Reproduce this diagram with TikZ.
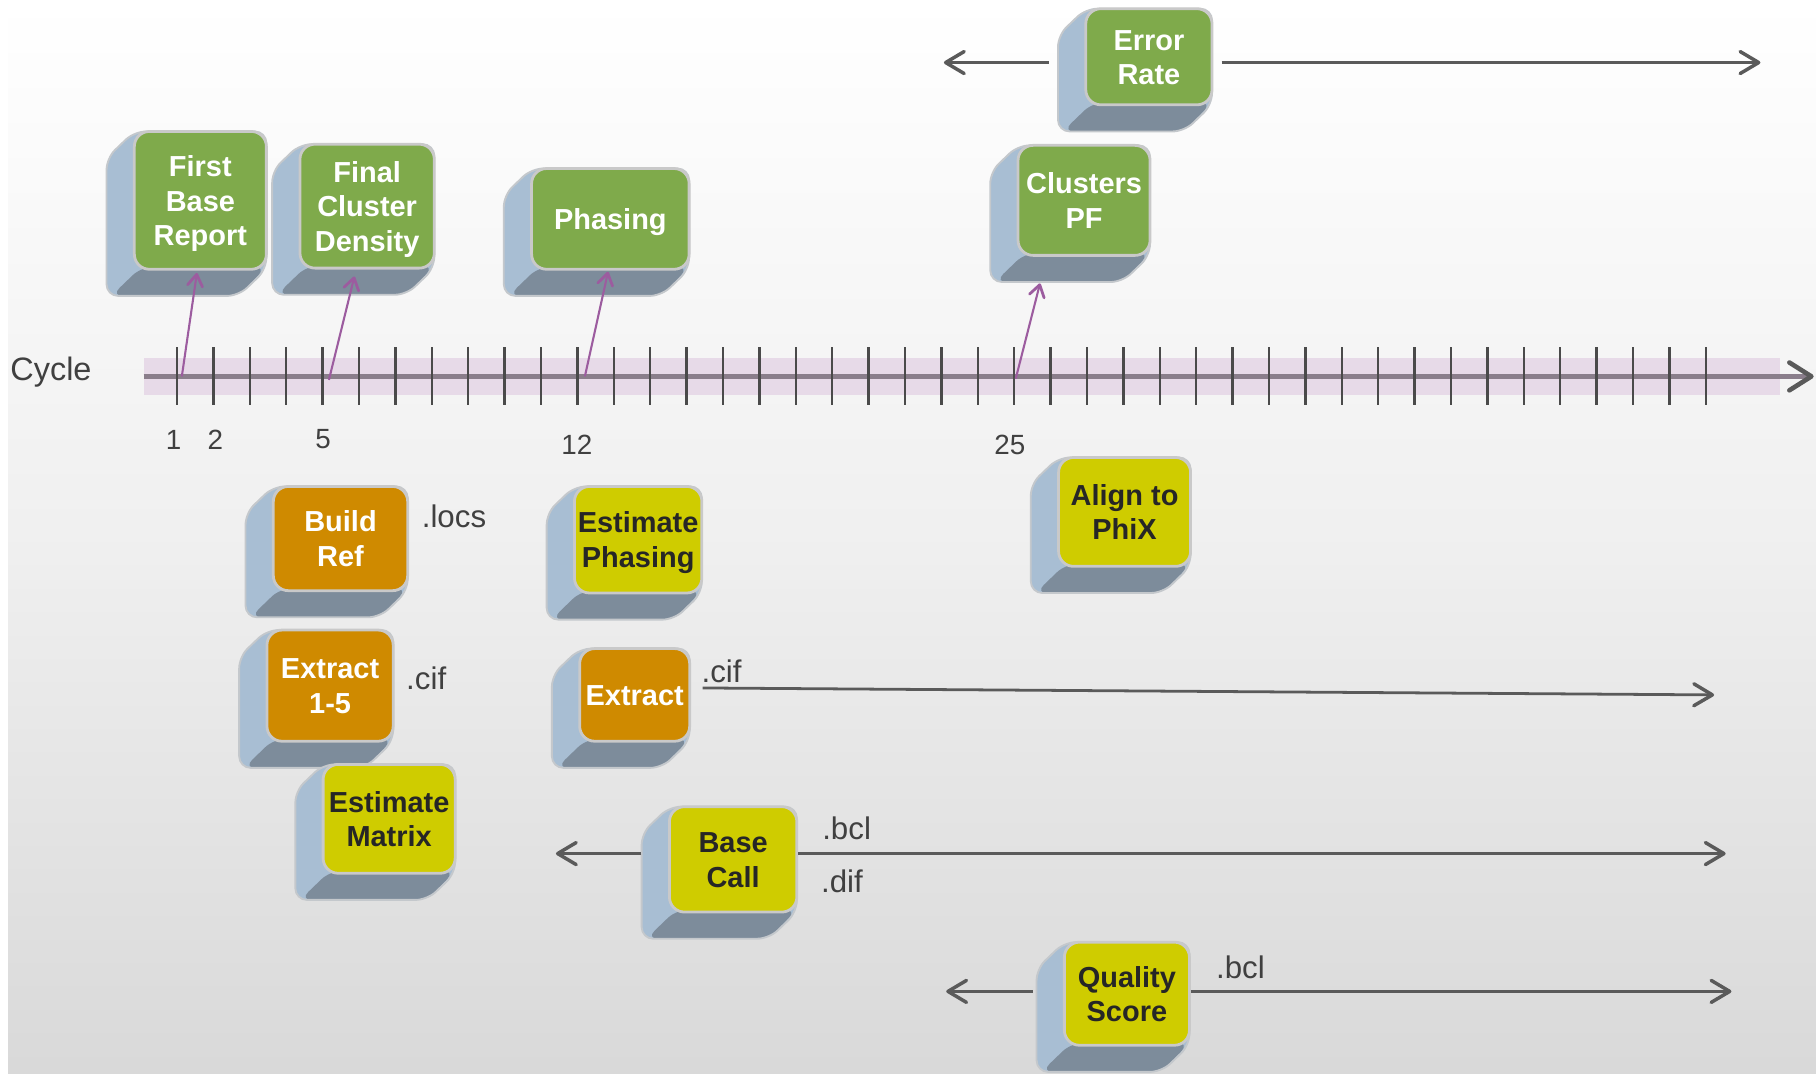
\documentclass[tikz,border=0pt]{standalone}
\usepackage{fontspec}
\setmainfont{Liberation Sans}
\usetikzlibrary{arrows.meta,calc}
\definecolor{gface}{HTML}{7FAA4B}
\definecolor{oface}{HTML}{CF8A00}
\definecolor{yface}{HTML}{CFCC00}
\definecolor{cubeside}{HTML}{A8BED3}
\definecolor{cubebottom}{HTML}{7D8C9B}
\definecolor{cubeline}{HTML}{C4C8CC}
\definecolor{faceline}{HTML}{C9C9C9}
\definecolor{bandcol}{HTML}{E7DAE8}
\definecolor{axiscol}{HTML}{8A7E8B}
\definecolor{tickcol}{HTML}{4A4A4A}
\definecolor{purp}{HTML}{9C5C9F}
\definecolor{garr}{HTML}{5A5A5A}
\definecolor{txt}{HTML}{404040}
\definecolor{ytxt}{HTML}{262626}

\newcommand{\cubebox}[7]{%
  \pgfmathsetmacro\chw{#4/2}%
  \pgfmathsetmacro\chh{#5/2}%
  \begin{scope}[shift={(#2,#3)}]
    \fill[cubeside,rounded corners=5pt] (-\chw,-\chh) -- (\chw,-\chh) -- (\chw,\chh) -- (\chw-24,\chh+23) -- (-\chw-24,\chh+23) -- (-\chw-24,-\chh+23) -- cycle;
    \fill[cubebottom,rounded corners=5pt] (-\chw+6,\chh-2) -- (\chw,\chh-2) -- (\chw-24,\chh+23) -- (-\chw-20,\chh+23) -- cycle;
    \draw[cubeline,line width=0.8pt,rounded corners=5pt] (-\chw,-\chh) -- (\chw,-\chh) -- (\chw,\chh) -- (\chw-24,\chh+23) -- (-\chw-24,\chh+23) -- (-\chw-24,-\chh+23) -- cycle;
  \end{scope}
  \node[#6, minimum width=#4*0.5pt, minimum height=#5*0.5pt] (#1) at (#2,#3)
    {\raisebox{-1.6pt}[\height][\depth]{\begin{tabular}{@{}c@{}}#7\end{tabular}}};
}

\tikzset{
  face/.style={rectangle, rounded corners=6.5pt, draw=faceline, line width=1.2pt, inner sep=0pt,
    font=\bfseries\fontsize{12.5}{15}\selectfont},
  greenbox/.style={face, fill=gface, text=white},
  orangebox/.style={face, fill=oface, text=white},
  yellowbox/.style={face, fill=yface, text=ytxt},
  lbl/.style={text=txt, inner sep=0pt, font=\fontsize{13.5}{16}\selectfont},
  numlbl/.style={text=txt, inner sep=0pt, font=\fontsize{12}{14}\selectfont},
  garrow/.style={draw=garr, line width=1.2pt, -{Straight Barb[length=8pt,width=9.5pt,line width=1.5pt,round]}},
  parrow/.style={draw=purp, line width=0.9pt, -{Straight Barb[length=5pt,width=6.5pt,line width=1.2pt,round]}},
  ticksty/.style={draw=tickcol, line width=1pt},
}

\begin{document}
\begin{tikzpicture}[x=0.5pt,y=-0.5pt]
\useasboundingbox (0,0) rectangle (1568,927);
\fill[white] (0,0) rectangle (1568,927);
\fill[top color=white, bottom color=black!15, middle color=black!6] (7,0) rectangle (1568,927);

% timeline
\fill[bandcol] (124,309) rectangle (1537,341);
\coordinate (ax0) at (124,325);
\coordinate (ax1) at (1566,325);
\draw[draw=axiscol, line width=2.2pt, -{Straight Barb[length=9.5pt,width=12pt,line width=2pt,round,color=garr]}] (ax0) -- (ax1);
\foreach \i in {0,...,42} \draw[ticksty] ({152.8+31.43*\i},300) -- ++(0,50);

\node[lbl, font=\fontsize{14}{16}\selectfont] (cyc) at (44,321) {Cycle};
\node[numlbl] (n1) at (150,380) {1};
\node[numlbl] (n2) at (186,380) {2};
\node[numlbl] (n5) at (279,379) {5};
\node[numlbl] (n12) at (498,384) {12};
\node[numlbl] (n25) at (872,384) {25};

% boxes
\cubebox{er}{992}{49}{109}{83}{greenbox}{Error\\Rate}
\cubebox{fbr}{173}{173}{114}{119}{greenbox}{First\\Base\\Report}
\cubebox{fcd}{317}{178}{116}{107}{greenbox}{Final\\Cluster\\Density}
\cubebox{ph}{527}{189}{136}{87}{greenbox}{Phasing}
\cubebox{cpf}{936}{173}{114}{95}{greenbox}{Clusters\\PF}
\cubebox{br}{294}{465}{116}{90}{orangebox}{Build\\Ref}
\cubebox{ep}{551}{466}{110}{92}{yellowbox}{Estimate\\Phasing}
\cubebox{ap}{971}{442}{114}{94}{yellowbox}{Align to\\PhiX}
\cubebox{ex15}{285}{592}{109}{96}{orangebox}{Extract\\1-5}
\cubebox{ex}{548}{600}{95}{80}{orangebox}{Extract}
\cubebox{em}{336}{707}{114}{94}{yellowbox}{Estimate\\Matrix}
\cubebox{bc}{633}{742}{110}{91}{yellowbox}{Base\\Call}
\cubebox{qs}{973}{858}{108}{89}{yellowbox}{Quality\\Score}

% file labels
\node[lbl] (locs) at (392,446) {.locs};
\node[lbl] (cif1) at (368,586) {.cif};
\node[lbl] (cif2) at (623,580) {.cif};
\node[lbl] (bcl1) at (731,715) {.bcl};
\node[lbl] (dif) at (727,761) {.dif};
\node[lbl] (bcl2) at (1071,835) {.bcl};

% purple arrows from timeline
\coordinate (c1) at (157,325);
\coordinate (c5) at (284,328);
\coordinate (c12) at (505,325);
\coordinate (c25) at (877,327);
\draw[parrow] (c1) -- ($(fbr.south)+(-3,2)$);
\draw[parrow] (c5) -- ($(fcd.south)+(-11,6)$);
\draw[parrow] (c12) -- ($(ph.south)+(-2,1)$);
\draw[parrow] (c25) -- ($(cpf.south)+(-38,23)$);

% gray range arrows
\coordinate (erL) at (815,54);
\coordinate (erR) at (1520,54);
\draw[garrow] ($(er.west)+(-31,5)$) -- (erL);
\draw[garrow] ($(er.east)+(7,5)$) -- (erR);
\coordinate (exR) at (1480,600);
\draw[garrow] ($(ex.east)+(10,-6)$) -- (exR);
\coordinate (bcL) at (480,737);
\coordinate (bcR) at (1490,737);
\draw[garrow] ($(bc.west)+(-23,-5)$) -- (bcL);
\draw[garrow] ($(bc.east)+(0,-5)$) -- (bcR);
\coordinate (qsL) at (817,856);
\coordinate (qsR) at (1495,856);
\draw[garrow] ($(qs.west)+(-26,-2)$) -- (qsL);
\draw[garrow] ($(qs.east)+(0,-2)$) -- (qsR);
\end{tikzpicture}
\end{document}
